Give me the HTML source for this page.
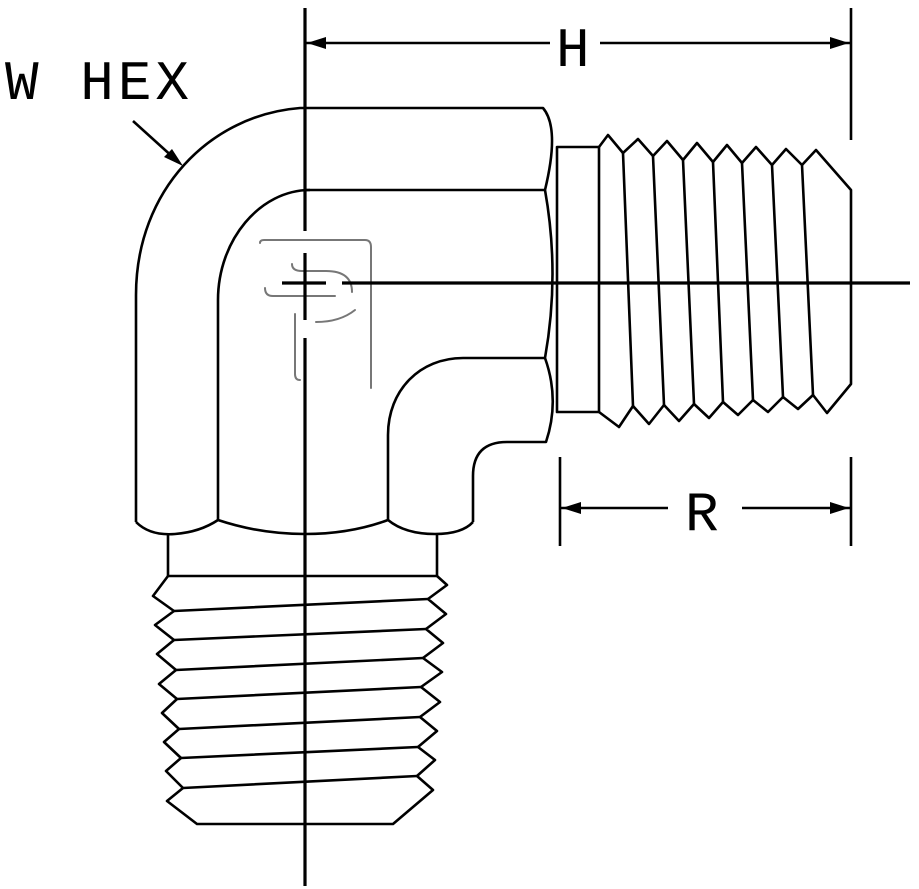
<!DOCTYPE html>
<html><head><meta charset="utf-8"><style>
html,body{margin:0;padding:0;background:#fff;}
svg{display:block;}
text{font-family:"Courier New","Nimbus Mono PS","Liberation Mono",monospace;fill:#000;}
</style></head><body>
<svg width="919" height="889" viewBox="0 0 919 889" xmlns="http://www.w3.org/2000/svg">
<g fill="none" stroke="#000" stroke-width="2.6" stroke-linejoin="round">
<path d="M320,108 H543 Q560,128 545,190 Q560,274 545,358 Q560,400 546,442 H507 Q473,442 473,476 V522"/>
<path d="M320,108 Q305,108 300,108 C210,115 136,190 136,295 V522"/>
<path d="M305,190 H545"/>
<path d="M310,190 C260,190 218,240 218,300 V520"/>
<path d="M545,358 H463 C420,358 388,390 388,435 V520"/>
<path d="M136,522 Q150,536 175,534 Q200,532 218,520 Q260,534 305,534 Q350,534 388,520 Q405,534 435,534 Q462,534 473,522"/>
<path d="M168,534 V576 H437 V534"/>
<path d="M168,576 L153,596 L174,611 L155,625 L174,640 L157,654 L176,670 L159,684 L177,699 L162,713 L179,729 L164,742 L181,758 L166,771 L183,788 L167,801 L197,824 H393 L433,790 L417,776 L435,760 L418,747 L437,731 L420,717 L440,702 L421,687 L442,672 L423,658 L443,643 L426,629 L446,614 L428,599 L447,585 L437,576"/>
<path d="M174,611 L428,599 M174,640 L426,629 M176,670 L423,658 M177,699 L421,687 M179,729 L420,717 M181,758 L418,747 M183,788 L417,776"/>
<path d="M557,147 H599 V412 H557 Z"/>
<path d="M599,147 L608,135 L623,153 L638,139 L653,156 L667,141 L683,160 L697,143 L713,162 L727,145 L742,163 L756,147 L772,165 L786,149 L802,165 L816,150 L851,190 V384 L827,413 L813,395 L798,409 L783,397 L768,412 L753,400 L738,415 L723,402 L709,418 L694,404 L679,421 L664,405 L649,424 L633,406 L619,427 L599,412"/>
<path d="M623,153 L633,406 M653,156 L664,405 M683,160 L694,404 M713,162 L723,402 M742,163 L753,400 M772,165 L783,397 M802,165 L813,395"/>
</g>
<g fill="none" stroke="#777" stroke-width="2" stroke-linecap="round">
<path d="M260,243 Q260,240 264,240 H365 Q371,240 371,247 V388"/>
<path d="M292,264 Q292,271 302,271 H326 Q352,271 352,292"/>
<path d="M316,322 Q340,322 355,310"/>
<path d="M265,288 Q265,296 273,296 H335"/>
<path d="M295,314 V374 Q295,380 300,380"/>
</g>
<g stroke="#000" stroke-width="3.2">
<path d="M305,8 V231 M305,253 V320 M305,338 V886"/>
<path d="M282,283 H326 M342,283 H910"/>
</g>
<g stroke="#000" stroke-width="2.6">
<path d="M851,8 V140"/>
<path d="M305,43 H550 M600,43 H850"/>
<path d="M560,457 V546 M851,457 V546"/>
<path d="M560,508 H668 M742,508 H851"/>
<path d="M133,121 L175,159"/>
</g>
<g fill="#000">
<polygon points="307,43 326,37 326,49"/>
<polygon points="849,43 830,37 830,49"/>
<polygon points="562,508 581,502 581,514"/>
<polygon points="849,508 830,502 830,514"/>
<polygon points="183,166 164,157 172,149"/>
</g>
<text x="5" y="99" font-size="56" letter-spacing="4">W HEX</text>
<text x="556" y="66" font-size="56">H</text>
<text x="685" y="530" font-size="56">R</text>
</svg>
</body></html>
